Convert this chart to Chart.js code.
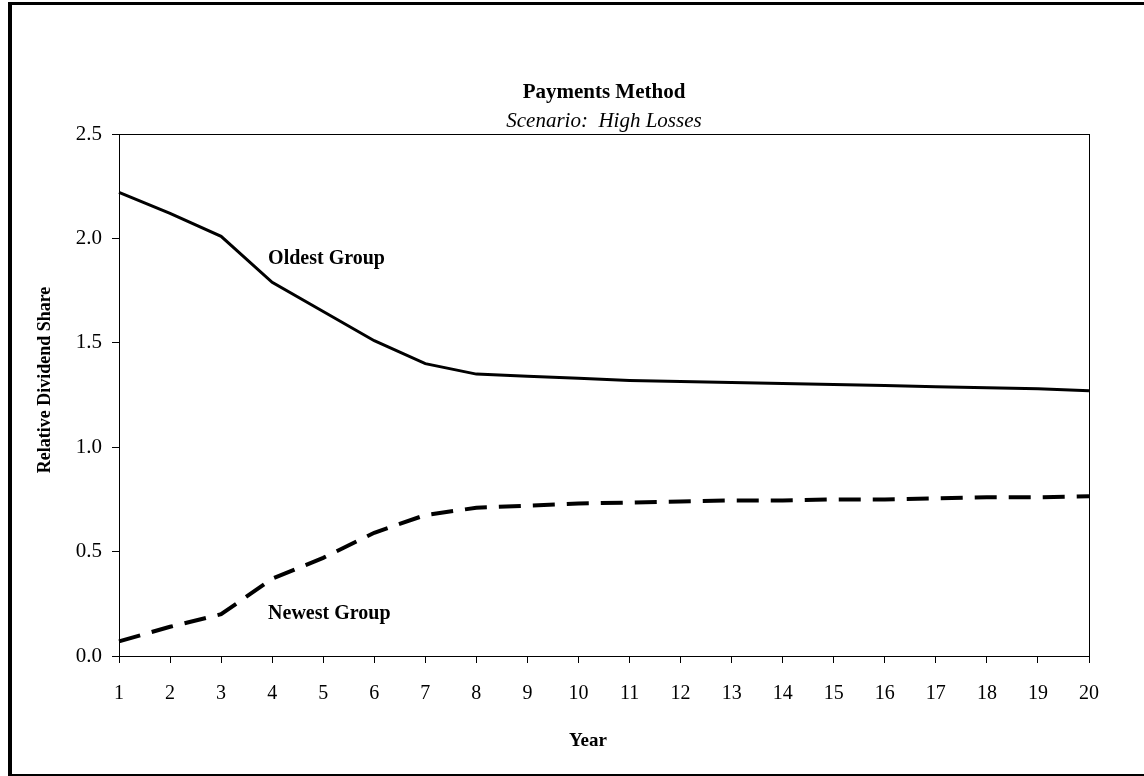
<!DOCTYPE html>
<html>
<head>
<meta charset="utf-8">
<title>Payments Method</title>
<script src="https://cdn.jsdelivr.net/npm/chart.js@4.4.1/dist/chart.umd.min.js"></script>
<style>
  html, body { margin: 0; padding: 0; background: #fff; }
  #wrap { position: relative; width: 1144px; height: 776px; overflow: hidden; }
  #frame {
    position: absolute; left: 8px; top: 2px; width: 1150px; height: 769px;
    border-left: 4px solid #000; border-top: 3px solid #000; border-bottom: 3px solid #000;
  }
  canvas { position: absolute; left: 0; top: 0; }
</style>
</head>
<body>
<div id="wrap">
  <div id="frame"></div>
  <canvas id="chart" width="1144" height="776"></canvas>
</div>
<script>
// data
const years = ['1','2','3','4','5','6','7','8','9','10','11','12','13','14','15','16','17','18','19','20'];
const oldestGroup = [2.22, 2.12, 2.01, 1.79, 1.65, 1.51, 1.40, 1.35, 1.34, 1.33, 1.32, 1.315, 1.31, 1.305, 1.30, 1.295, 1.29, 1.285, 1.28, 1.27];
const newestGroup = [0.07, 0.14, 0.20, 0.37, 0.47, 0.59, 0.675, 0.71, 0.72, 0.73, 0.735, 0.74, 0.745, 0.745, 0.75, 0.75, 0.755, 0.76, 0.76, 0.765];
const yTicks = [0, 0.5, 1.0, 1.5, 2.0, 2.5];

const serif = '"Liberation Serif", "Times New Roman", serif';

// titles, axis titles, line labels and the plot box
const textPlugin = {
  id: 'texts',
  afterDraw(chart) {
    const ctx = chart.ctx;
    const area = chart.chartArea;
    const x = chart.scales.x, y = chart.scales.y;
    ctx.save();
    ctx.strokeStyle = '#000';
    ctx.lineWidth = 1;
    ctx.strokeRect(area.left + 0.5, area.top + 0.5, area.right - area.left, area.bottom - area.top);

    ctx.fillStyle = '#000';
    ctx.textAlign = 'center';
    ctx.textBaseline = 'middle';
    ctx.font = 'bold 21px ' + serif;
    ctx.fillText('Payments Method', 604, 93);
    ctx.font = 'italic 21px ' + serif;
    ctx.fillText('Scenario:  High Losses', 604, 121);

    ctx.font = 'bold 19px ' + serif;
    ctx.fillText('Year', 588, 741);

    ctx.save();
    ctx.translate(45, 380);
    ctx.rotate(-Math.PI / 2);
    ctx.font = 'bold 18px ' + serif;
    ctx.fillText('Relative Dividend Share', 0, 0);
    ctx.restore();

    // labels next to the lines (index 2 = year 3)
    ctx.font = 'bold 20px ' + serif;
    ctx.textAlign = 'left';
    ctx.fillText('Oldest Group', x.getPixelForValue(2) + 47, y.getPixelForValue(1.9));
    ctx.fillText('Newest Group', x.getPixelForValue(2) + 47, y.getPixelForValue(0.2));
    ctx.restore();
  }
};

new Chart(document.getElementById('chart'), {
  type: 'line',
  data: {
    labels: years,
    datasets: [{
      label: 'Oldest Group',
      data: oldestGroup,
      borderColor: '#000',
      borderWidth: 3,
      pointRadius: 0,
      tension: 0
    }, {
      label: 'Newest Group',
      data: newestGroup,
      borderColor: '#000',
      borderWidth: 4,
      borderDash: [22, 12],
      pointRadius: 0,
      tension: 0
    }]
  },
  options: {
    responsive: false,
    animation: false,
    layout: { padding: { left: 0, top: 134, right: 55, bottom: 0 } },
    plugins: {
      legend: { display: false },
      title: { display: false },
      tooltip: { enabled: false }
    },
    scales: {
      x: {
        offset: false,
        grid: { display: true, drawOnChartArea: false, drawTicks: true, tickLength: 7, color: '#000' },
        border: { display: true, color: '#000', width: 1 },
        ticks: { color: '#000', font: { family: serif, size: 20 }, padding: 19, maxRotation: 0, autoSkip: false },
        afterFit(scale) { scale.height = 120; }
      },
      y: {
        min: 0,
        max: 2.5,
        afterBuildTicks(scale) { scale.ticks = yTicks.map(v => ({ value: v })); },
        grid: { display: true, drawOnChartArea: false, drawTicks: true, tickLength: 7, color: '#000' },
        border: { display: true, color: '#000', width: 1 },
        ticks: { color: '#000', font: { family: serif, size: 21 }, padding: 10, callback: v => Number(v).toFixed(1) },
        afterFit(scale) { scale.width = 119; }
      }
    }
  },
  plugins: [textPlugin]
});
</script>
</body>
</html>
